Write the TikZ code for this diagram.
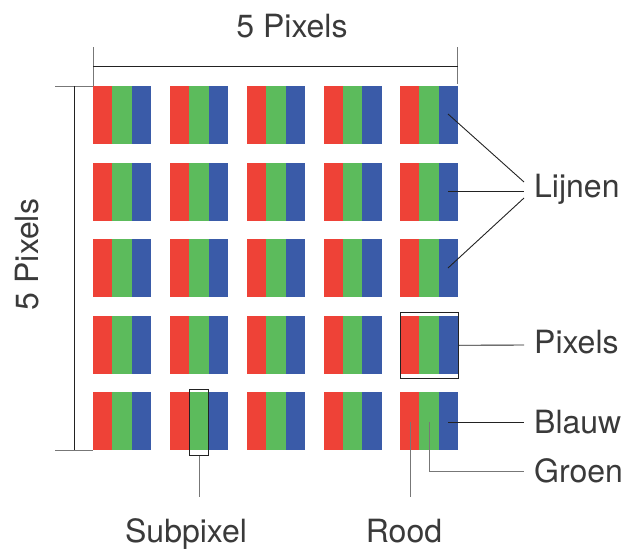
\documentclass[tikz,border=0pt]{standalone}
\usepackage{fontspec}
\setmainfont{TeX Gyre Heros}
\definecolor{sr}{HTML}{EE4237}
\definecolor{sg}{HTML}{5CBB5C}
\definecolor{sb}{HTML}{3A5BA8}
\definecolor{txt}{HTML}{3A3A3A}
\definecolor{ln}{HTML}{222222}
\definecolor{gln}{HTML}{777777}
\begin{document}
\begin{tikzpicture}[x=1pt,y=-1pt,
  lbl/.style={text=txt,font=\fontsize{32}{38}\selectfont,inner sep=0pt},
  conn/.style={draw=ln,line width=0.9pt},
  gconn/.style={draw=gln,line width=1pt},
  boxm/.style={draw=ln,line width=0.9pt}]
\useasboundingbox (0,0) rectangle (625,549);
\foreach \c [count=\i] in {93,170,247,323.5,400}{
  \foreach \r [count=\j] in {86,162.5,239,315.5,392}{
    \fill[sr] (\c,\r) rectangle ++(19.3,58);
    \fill[sg] (\c+19.3,\r) rectangle ++(19.4,58);
    \fill[sb] (\c+38.7,\r) rectangle ++(19.3,58);
  }
}
% dimension top
\draw[gconn] (93,47) -- (93,86);
\draw[gconn] (457.5,47) -- (457.5,84);
\draw[conn] (93,66) -- (457.5,66);
\node[lbl,anchor=base] (top) at (292,37) {5 Pixels};
% dimension left
\draw[gconn] (55,86) -- (93,86);
\draw[gconn] (55,450) -- (93,450);
\draw[conn] (74.3,86) -- (74.3,450);
\node[lbl,rotate=90,anchor=base] (left) at (38,254.5) {5 Pixels};
% Lijnen
\node[lbl,anchor=base west] (lijnen) at (534,197) {Lijnen};
\coordinate (l1) at (448,114);
\coordinate (l2) at (448,191);
\coordinate (l3) at (448,268);
\coordinate (lj1) at (524,182);
\coordinate (lj2) at (524,191);
\coordinate (lj3) at (524,198);
\draw[conn] (l1) -- (lj1);
\draw[conn] (l2) -- (lj2);
\draw[conn] (l3) -- (lj3);
% Pixels
\node[boxm,minimum width=58pt,minimum height=65.5pt,inner sep=0pt] (pbox) at (429,345.3) {};
\node[lbl,anchor=base west] (pixels) at (534,353) {Pixels};
\coordinate (pe) at (524,345);
\draw[conn] (pbox.east) -- (pe);
% Blauw
\node[lbl,anchor=base west] (blauw) at (534,433) {Blauw};
\coordinate (bs) at (448,422);
\coordinate (be) at (524,422);
\draw[conn] (bs) -- (be);
% Groen
\node[lbl,anchor=base west] (groen) at (534,482) {Groen};
\coordinate (gs) at (429,422);
\coordinate (ge) at (524,471.5);
\draw[gconn] (gs) |- (ge);
% Rood
\node[lbl,anchor=base] (rood) at (404,542) {Rood};
\coordinate (rs) at (410,422);
\coordinate (re) at (410,497);
\draw[gconn] (rs) -- (re);
% Subpixel
\node[boxm,minimum width=19.4pt,minimum height=66pt,inner sep=0pt] (sbox) at (199,422.3) {};
\node[lbl,anchor=base] (sub) at (186,542) {Subpixel};
\coordinate (se) at (199,497);
\draw[gconn] (sbox.south) -- (se);
\end{tikzpicture}
\end{document}
